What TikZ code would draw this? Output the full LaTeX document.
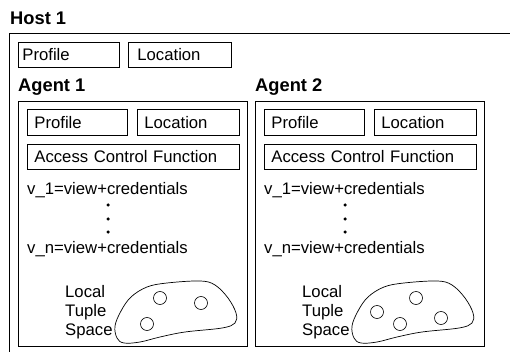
\documentclass[tikz,border=0pt]{standalone}
\usepackage{fontspec}
\setmainfont{Liberation Sans}
\usetikzlibrary{positioning}
\tikzstyle{title}=[font=\fontsize{18.3}{22}\selectfont\bfseries, anchor=base west, inner sep=0pt]
\tikzstyle{plain}=[font=\fontsize{16.7}{19}\selectfont, anchor=base west, inner sep=0pt]
\tikzstyle{field}=[draw, line width=0.8pt, rectangle, anchor=north west, align=left, inner xsep=7pt, inner ysep=0pt, minimum height=25pt, text height=12pt, text depth=0pt, font=\fontsize{16.7}{19}\selectfont]
\tikzstyle{container}=[draw, line width=0.8pt]
\tikzstyle{tuple}=[draw, line width=0.6pt, circle, minimum size=13pt, inner sep=0pt]
\tikzstyle{ellipsis}=[fill, circle, minimum size=3.5pt, inner sep=0pt]

\begin{document}
\begin{tikzpicture}[x=1pt, y=-1pt]
\clip (0,0) rectangle (510,352);

\node[title] (host) at (10,25) {Host 1};
\draw[container] (9,33) rectangle (530,370);
\node[field, text width=93pt, inner xsep=4pt] (hostprofile) at (18,42) {Profile};
\node[field, text width=85pt, inner xsep=9pt] (hostlocation) at (128,42) {Location};

\foreach \n/\ox in {1/0, 2/237}
{
  \begin{scope}[xshift=\ox]
  \node[title] (agent\n) at (18,92) {Agent \n};
  \draw[container] (18,101) rectangle (247,346);
  \node[field, text width=86pt, minimum height=26pt] (profile\n) at (27,109) {Profile};
  \node[field, text width=88pt, minimum height=26pt] (location\n) at (137,109) {Location};
  \node[field, text width=198pt] (acf\n) at (27,144) {Access Control Function};
  \node[plain] (viewfirst\n) at (27,195) {v\_1=view+credentials};
  \foreach \y in {205,219,232}
    \node[ellipsis] at (108,\y) {};
  \node[plain] (viewlast\n) at (27,253) {v\_n=view+credentials};
  \foreach \w [count=\k] in {Local,Tuple,Space}
    \node[plain] (lts\n-\k) at (65,278+19*\k) {\w};
  \draw[line width=0.7pt] plot[smooth cycle, tension=0.6] coordinates {(117,338) (115,326) (121,311) (131,297) (147,287) (167,283) (200,281) (215,285) (228,298) (236,313) (235,323) (222,328) (185,332) (160,337) (140,342) (124,343)};
  \end{scope}
}

% tuples in the local spaces
\foreach \x/\y [count=\k] in {160/298, 201/303, 147/324}
  \node[tuple] (tupleA\k) at (\x,\y) {};
\foreach \x/\y [count=\k] in {416/298, 377/312, 400/324, 441/318}
  \node[tuple] (tupleB\k) at (\x,\y) {};
\end{tikzpicture}
\end{document}
